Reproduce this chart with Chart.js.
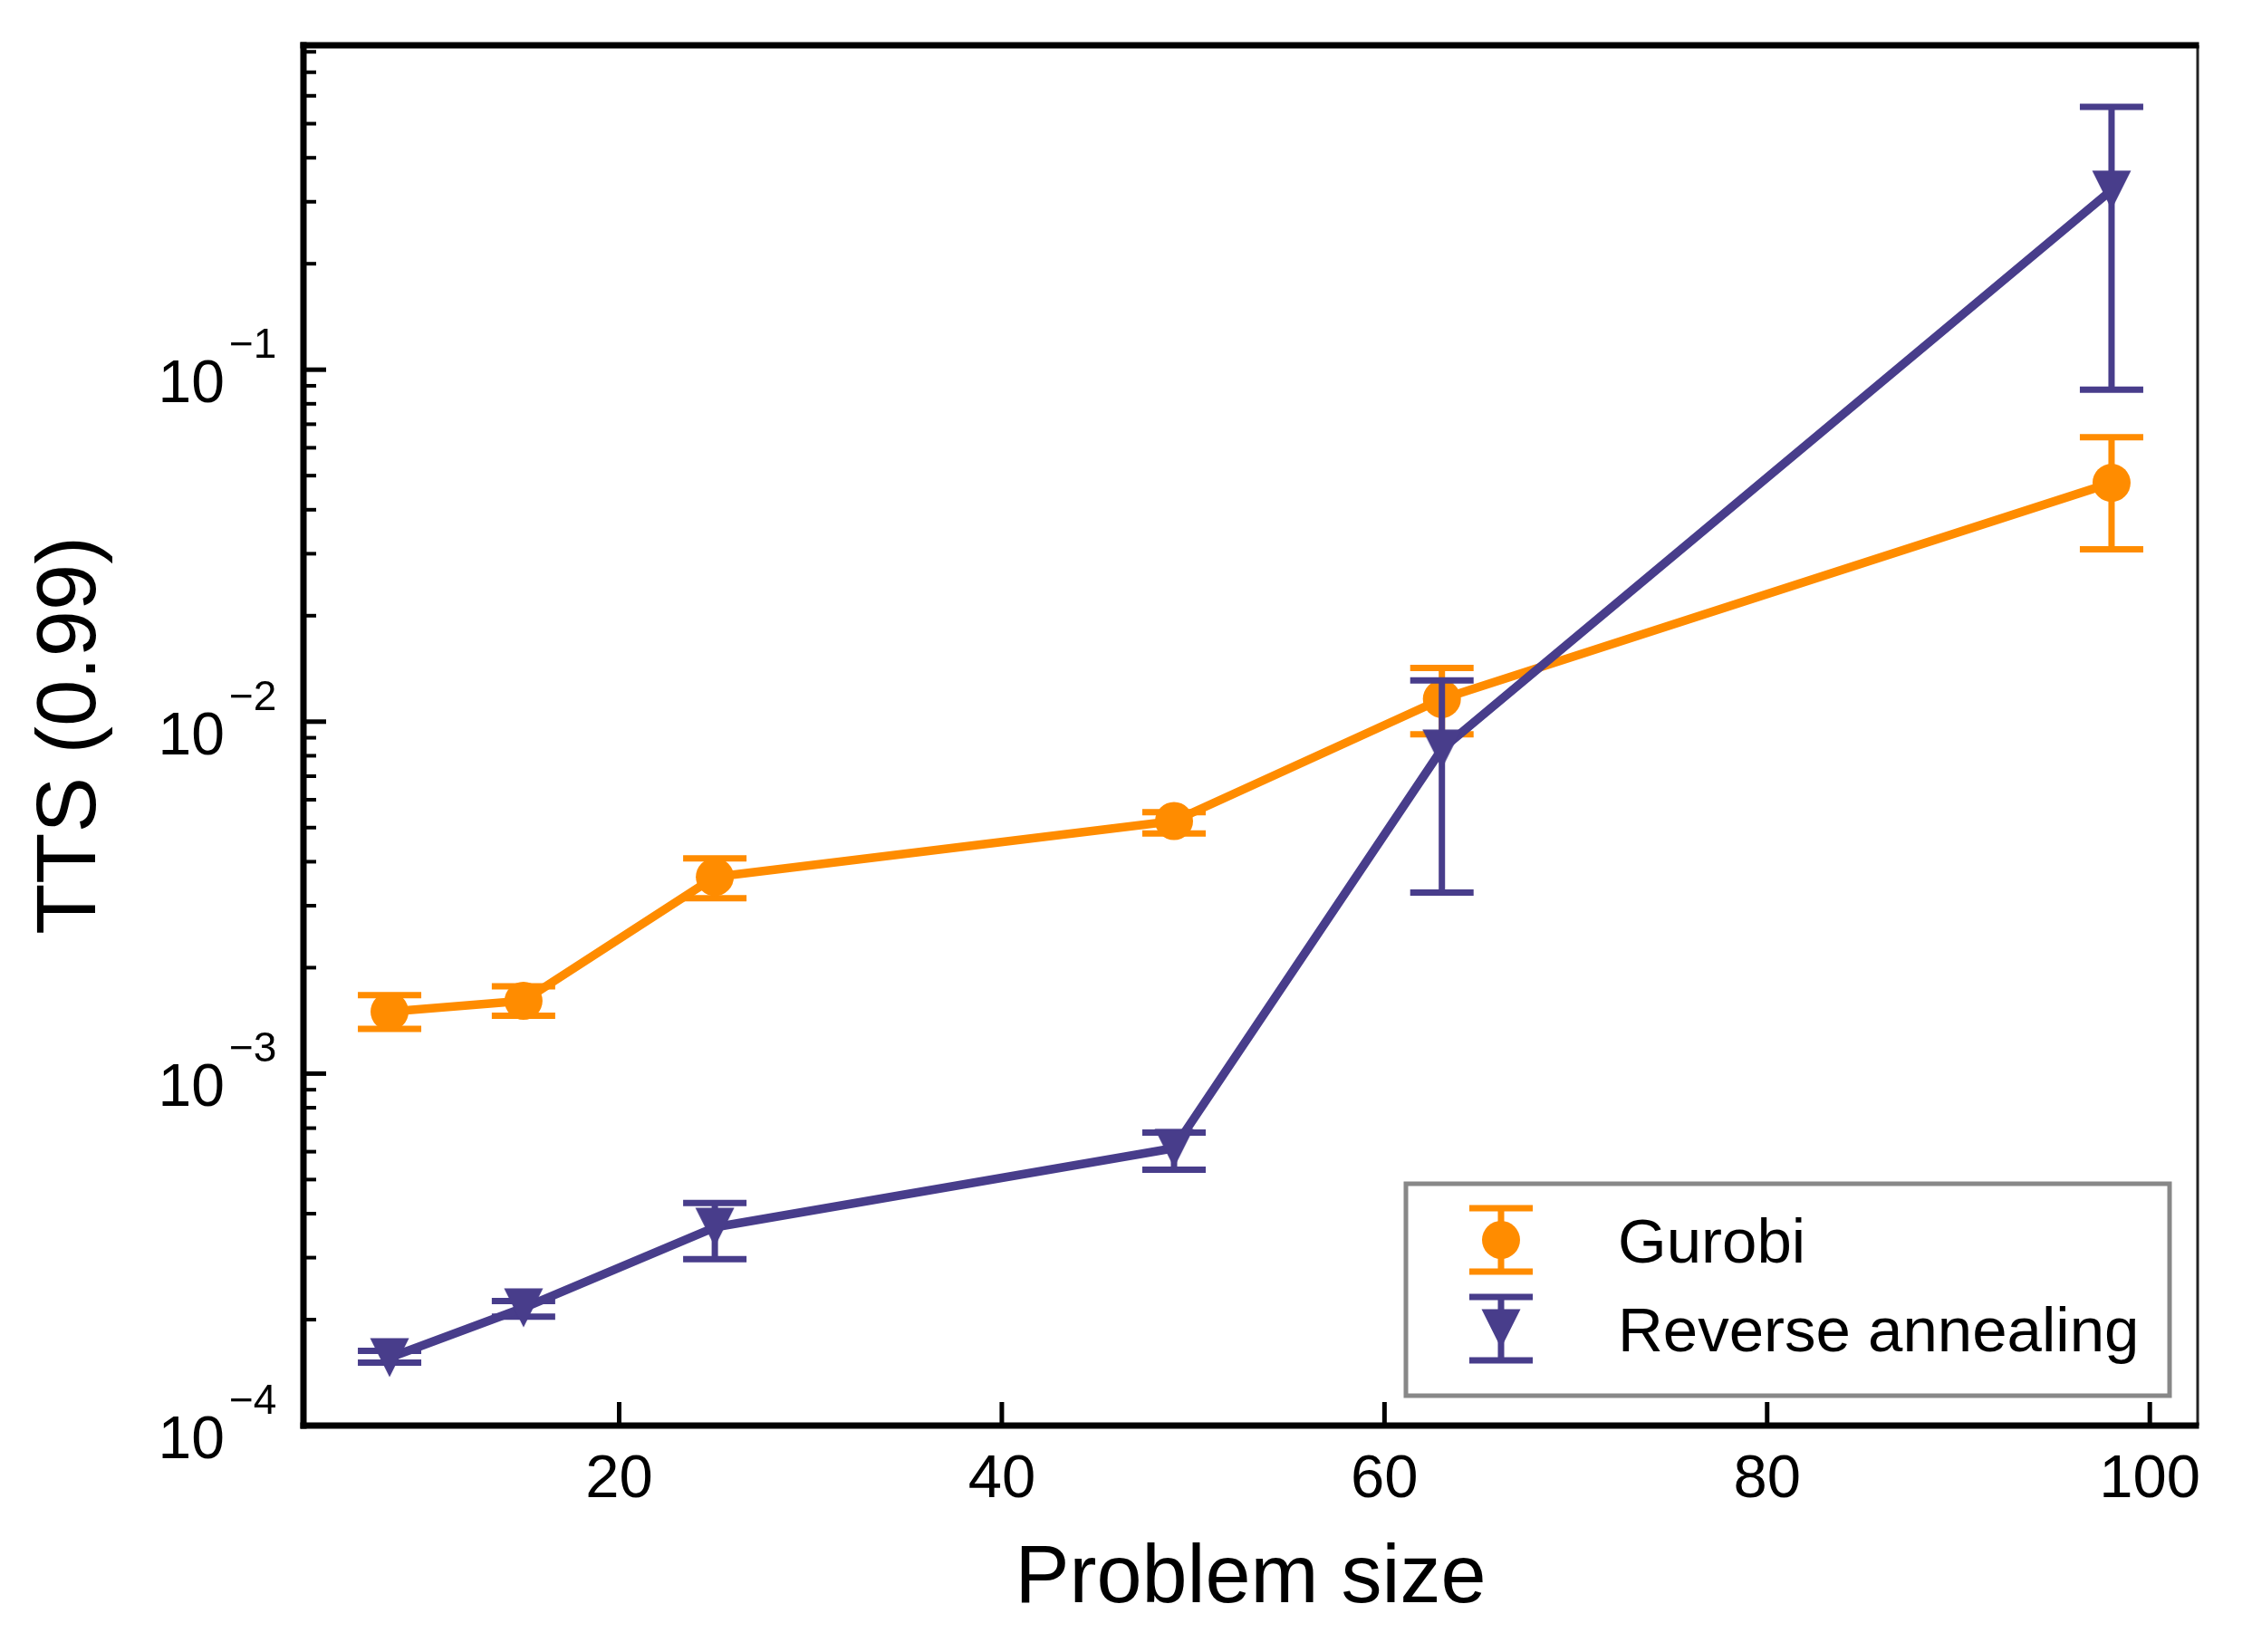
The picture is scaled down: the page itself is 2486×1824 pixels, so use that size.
<!DOCTYPE html>
<html>
<head>
<meta charset="utf-8">
<title>TTS vs problem size</title>
<script src="https://cdn.jsdelivr.net/npm/chart.js@4.4.1/dist/chart.umd.min.js"></script>
<style>
  html, body { margin: 0; padding: 0; background: #fff; }
  #wrap { width: 2486px; height: 1824px; }
</style>
</head>
<body>
<div id="wrap"><canvas id="ttsChart" width="2486" height="1824"></canvas></div>
<script>
/* ==========================
   DATA
========================== */
const problemSizes = [8, 15, 25, 49, 63, 98];

const gurobiTTS  = [1.50e-3, 1.61e-3, 3.62e-3, 5.22e-3, 1.16e-2, 4.77e-2];
const gurobiLow  = [1.34e-3, 1.46e-3, 3.15e-3, 4.81e-3, 9.20e-3, 3.09e-2];
const gurobiHigh = [1.67e-3, 1.77e-3, 4.09e-3, 5.53e-3, 1.42e-2, 6.43e-2];

const reverseTTS  = [1.56e-4, 2.16e-4, 3.66e-4, 6.14e-4, 8.36e-3, 0.324];
const reverseLow  = [1.51e-4, 2.04e-4, 2.97e-4, 5.33e-4, 3.27e-3, 0.0877];
const reverseHigh = [1.63e-4, 2.26e-4, 4.29e-4, 6.80e-4, 1.31e-2, 0.558];

const seriesLabels = ["Gurobi", "Reverse annealing"];
const xTicks = [20, 40, 60, 80, 100];
const yDecades = [-4, -3, -2, -1];

/* ==========================
   STYLE
========================== */
const ORANGE = "#FF8C00";
const PURPLE = "#483D8B";
const FONT = "'Liberation Sans', Arial, Helvetica, sans-serif";
const CAP = 35;
const ERR_WIDTH = 7;

Chart.defaults.font.family = FONT;
Chart.defaults.color = "#000";

// downward triangle centred on its bounding box (like matplotlib "v")
const triangleDown = document.createElement("canvas");
triangleDown.width = 44;
triangleDown.height = 44;
(function () {
    const c = triangleDown.getContext("2d");
    c.fillStyle = PURPLE;
    c.beginPath();
    c.moveTo(0.5, 0.5);
    c.lineTo(43.5, 0.5);
    c.lineTo(22, 43.5);
    c.closePath();
    c.fill();
})();

function toPoints(values) {
    return problemSizes.map((s, i) => ({ x: s, y: values[i] }));
}

/* ==========================
   PLUGINS
========================== */
const errorBars = {
    id: "errorBars",
    beforeDatasetDraw(chart, args) {
        const ds = chart.data.datasets[args.index];
        if (!ds.errLow) return;
        const { ctx, scales: { x, y } } = chart;
        ctx.save();
        ctx.strokeStyle = ds.borderColor;
        ctx.lineWidth = ERR_WIDTH;
        ds.data.forEach((pt, i) => {
            const px = x.getPixelForValue(pt.x);
            const lo = y.getPixelForValue(ds.errLow[i]);
            const hi = y.getPixelForValue(ds.errHigh[i]);
            ctx.beginPath();
            ctx.moveTo(px, lo); ctx.lineTo(px, hi);
            ctx.moveTo(px - CAP, lo); ctx.lineTo(px + CAP, lo);
            ctx.moveTo(px - CAP, hi); ctx.lineTo(px + CAP, hi);
            ctx.stroke();
        });
        ctx.restore();
    }
};

function seg(ctx, x1, y1, x2, y2, w, color) {
    ctx.beginPath();
    ctx.lineWidth = w;
    ctx.strokeStyle = color || "#000";
    ctx.moveTo(x1, y1);
    ctx.lineTo(x2, y2);
    ctx.stroke();
}

const frameAndTicks = {
    id: "frameAndTicks",
    afterDatasetsDraw(chart) {
        const { ctx, chartArea: a, scales: { x, y } } = chart;
        ctx.save();
        ctx.lineCap = "butt";

        // x ticks (inward)
        xTicks.forEach(v => {
            const px = x.getPixelForValue(v);
            seg(ctx, px, a.bottom, px, a.bottom - 26, 5);
        });

        // y ticks, major + minor (inward)
        yDecades.forEach(d => {
            const base = Math.pow(10, d);
            const py = y.getPixelForValue(base);
            seg(ctx, a.left, py, a.left + 25, py, 5);
            for (let m = 2; m <= 9; m++) {
                const v = m * base;
                if (v > y.max) break;
                const pm = y.getPixelForValue(v);
                seg(ctx, a.left, pm, a.left + 14, pm, 4);
            }
        });

        // y tick labels 10^d
        ctx.fillStyle = "#000";
        ctx.textBaseline = "alphabetic";
        yDecades.forEach(d => {
            const py = y.getPixelForValue(Math.pow(10, d));
            ctx.font = "66px " + FONT;
            ctx.textAlign = "right";
            ctx.fillText("10", a.left - 87, py + 36);
            ctx.font = "46px " + FONT;
            ctx.textAlign = "left";
            ctx.fillText("\u2212" + Math.abs(d), a.left - 82, py - 13);
        });

        // spines
        seg(ctx, a.right, a.top, a.right, a.bottom, 3, "#222");
        seg(ctx, a.left - 3.5, a.top, a.right + 1.5, a.top, 7);
        seg(ctx, a.left - 3.5, a.bottom, a.right + 1.5, a.bottom, 7);
        seg(ctx, a.left, a.top - 3.5, a.left, a.bottom + 3.5, 7);
        ctx.restore();
    }
};

const legendBox = {
    id: "legendBox",
    afterDraw(chart) {
        const { ctx, chartArea: a } = chart;
        const w = 843, h = 234;
        const left = a.right - 31 - w;
        const top = a.bottom - 33 - h;
        ctx.save();
        ctx.fillStyle = "#fff";
        ctx.fillRect(left, top, w, h);
        ctx.strokeStyle = "#888";
        ctx.lineWidth = 5;
        ctx.strokeRect(left, top, w, h);

        chart.data.datasets.forEach((ds, i) => {
            const cy = top + 62 + i * 98;
            const cx = left + 105;
            ctx.strokeStyle = ds.borderColor;
            ctx.lineWidth = ERR_WIDTH;
            ctx.beginPath();
            ctx.moveTo(cx, cy - 35); ctx.lineTo(cx, cy + 35);
            ctx.moveTo(cx - CAP, cy - 35); ctx.lineTo(cx + CAP, cy - 35);
            ctx.moveTo(cx - CAP, cy + 35); ctx.lineTo(cx + CAP, cy + 35);
            ctx.stroke();
            if (ds.pointStyle === "circle") {
                ctx.fillStyle = ds.borderColor;
                ctx.beginPath();
                ctx.arc(cx, cy, ds.pointRadius, 0, Math.PI * 2);
                ctx.fill();
            } else {
                ctx.drawImage(ds.pointStyle, cx - ds.pointStyle.width / 2, cy - ds.pointStyle.height / 2);
            }
            ctx.fillStyle = "#000";
            ctx.font = "69px " + FONT;
            ctx.textAlign = "left";
            ctx.textBaseline = "alphabetic";
            ctx.fillText(ds.label, left + 234, cy + 25);
        });
        ctx.restore();
    }
};

/* ==========================
   CHART
========================== */
new Chart(document.getElementById("ttsChart"), {
    type: "line",
    data: {
        datasets: [
            {
                label: seriesLabels[0],
                data: toPoints(gurobiTTS),
                errLow: gurobiLow,
                errHigh: gurobiHigh,
                borderColor: ORANGE,
                backgroundColor: ORANGE,
                borderWidth: 9.5,
                borderJoinStyle: "round",
                pointStyle: "circle",
                pointRadius: 21,
                pointBorderWidth: 0,
                pointBackgroundColor: ORANGE,
                tension: 0,
                order: 1
            },
            {
                label: seriesLabels[1],
                data: toPoints(reverseTTS),
                errLow: reverseLow,
                errHigh: reverseHigh,
                borderColor: PURPLE,
                backgroundColor: PURPLE,
                borderWidth: 9.5,
                borderJoinStyle: "round",
                pointStyle: triangleDown,
                pointRadius: 22,
                pointBorderWidth: 0,
                pointBackgroundColor: PURPLE,
                tension: 0,
                order: 0
            }
        ]
    },
    options: {
        responsive: false,
        animation: false,
        devicePixelRatio: 1,
        events: [],
        layout: { padding: { top: 50, right: 60, left: 0, bottom: 0 } },
        plugins: {
            legend: { display: false },
            tooltip: { enabled: false }
        },
        scales: {
            x: {
                type: "linear",
                min: 3.5,
                max: 102.5,
                grid: { display: false },
                border: { display: false },
                afterBuildTicks: s => { s.ticks = xTicks.map(v => ({ value: v })); },
                afterFit: s => { s.height = 250; },
                ticks: {
                    autoSkip: false,
                    maxRotation: 0,
                    padding: 12,
                    color: "#000",
                    font: { size: 67 },
                    callback: v => String(v)
                },
                title: {
                    display: true,
                    text: "Problem size",
                    color: "#000",
                    font: { size: 90 },
                    padding: { top: 0, bottom: 26 }
                }
            },
            y: {
                type: "logarithmic",
                min: 1e-4,
                max: 0.835,
                grid: { display: false },
                border: { display: false },
                ticks: { display: false },
                afterFit: s => { s.width = 335; },
                title: {
                    display: true,
                    text: "TTS (0.99)",
                    color: "#000",
                    font: { size: 92 },
                    padding: { top: 24, bottom: 0 }
                }
            }
        }
    },
    plugins: [errorBars, frameAndTicks, legendBox]
});
</script>
</body>
</html>
